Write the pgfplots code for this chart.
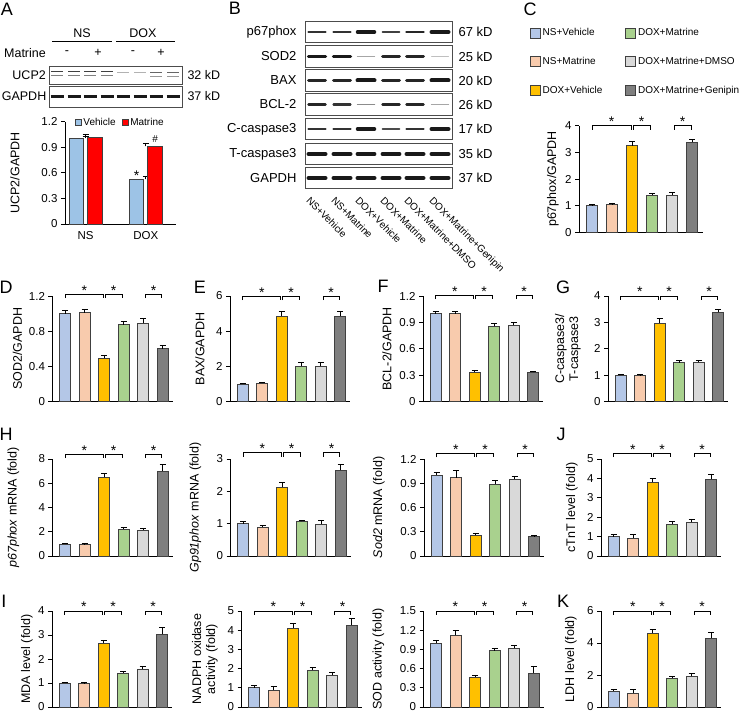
\documentclass[border=0pt]{standalone}
\usepackage{fontspec}
\setmainfont{Liberation Sans}
\usepackage{pgfplots}
\pgfplotsset{compat=1.18}
\definecolor{cNV}{HTML}{B4C7E7}
\definecolor{cNM}{HTML}{F8CBAD}
\definecolor{cDV}{HTML}{FFC000}
\definecolor{cDM}{HTML}{A9D18E}
\definecolor{cDD}{HTML}{D9D9D9}
\definecolor{cDG}{HTML}{7F7F7F}
\definecolor{aV}{HTML}{9DC3E6}
\definecolor{aM}{HTML}{FF0000}
\newcommand\ticksz{\fontsize{11.5}{13}\selectfont}
\newcommand\labsz{\fontsize{12.5}{14}\selectfont}
\newcommand\letsz{\fontsize{18}{20}\selectfont}
\newcommand\legsz{\fontsize{10}{12}\selectfont}
\newcommand\blotsz{\fontsize{13}{15}\selectfont}
\newcommand\blotasz{\fontsize{12.5}{15}\selectfont}
\newcommand\starsz{\fontsize{14}{16}\selectfont}
\pgfplotsset{
 barsty/.style={ybar, bar width=11pt, bar shift=0pt, draw=black!75, line width=0.7pt,
   error bars/y dir=plus, error bars/y explicit,
   error bars/error bar style={line width=0.8pt, black, solid},
   error bars/error mark options={rotate=90, mark size=3pt, line width=0.8pt, black},
   legend image code/.code={\draw[##1, line width=0.6pt] (0pt,-5pt) rectangle (10pt,5pt);}},
 asq/.style={legend image code/.code={\draw[##1, line width=0.6pt] (0pt,-3pt) rectangle (6pt,3pt);}},
 panel/.style={scale only axis, width=120pt, xmin=0.35, xmax=6.5, ymin=0,
   axis x line*=bottom, axis y line*=left, axis line style={-, line width=0.8pt, black},
   xtick=\empty, tick align=outside, major tick length=4pt,
   ytick style={line width=0.8pt, black},
   tick label style={font=\ticksz},
   /pgf/number format/assume math mode=true,
   ylabel style={font=\labsz, align=center},
   clip=false, anchor=south west},
}
\newcommand\bb[4]{\addplot[barsty, fill=#1] coordinates {(#2,#3) +- (0,#4)};}
\newcommand\brk[1]{%
 \draw[line width=0.8pt] ([yshift=-4pt]axis cs:1,#1) -- (axis cs:1,#1) -- (axis cs:2.95,#1) -- ([yshift=-4pt]axis cs:2.95,#1);
 \draw[line width=0.8pt] ([yshift=-4pt]axis cs:3.05,#1) -- (axis cs:3.05,#1) -- (axis cs:3.92,#1) -- ([yshift=-4pt]axis cs:3.92,#1);
 \draw[line width=0.8pt] ([yshift=-4pt]axis cs:5.12,#1) -- (axis cs:5.12,#1) -- (axis cs:5.95,#1) -- ([yshift=-4pt]axis cs:5.95,#1);
 \node[font=\starsz, anchor=base, inner sep=0pt] at ([yshift=-1pt]axis cs:1.98,#1) {*};
 \node[font=\starsz, anchor=base, inner sep=0pt] at ([yshift=-1pt]axis cs:3.48,#1) {*};
 \node[font=\starsz, anchor=base, inner sep=0pt] at ([yshift=-1pt]axis cs:5.53,#1) {*};
}
\newcommand\ylab[1]{ylabel style={at={([xshift=-#1pt]axis description cs:0,0.5)}, anchor=center}}
\newcommand\bd[4]{\draw[line width=#3pt, black!#4, line cap=round] (#1-8.5,#2) -- (#1+8.5,#2);}
\newcommand\lane[2]{\node[font=\legsz, rotate=-45, anchor=north west, inner sep=0pt] at (#1,196) {#2};}
\begin{document}
\begin{tikzpicture}
\useasboundingbox (0,0) rectangle (740pt,713pt);

% ---------------- Panel A chart
\begin{axis}[panel, width=111pt, height=102.3pt, xmin=0.66, xmax=2.5, at={(65pt,489pt)},
 ymax=1.2, ytick={0,0.3,0.6,0.9,1.2},
 xtick={1,2}, xticklabels={NS,DOX}, xtick style={draw=none},
 ylabel={UCP2/GAPDH}, \ylab{50},
 legend columns=2, legend style={draw=none, fill=none, font=\legsz, at={(axis description cs:0.06,0.99)}, anchor=west,
   /tikz/every even column/.append style={column sep=4pt}}]
\addplot[barsty, asq, bar width=14.5pt, bar shift=-9.25pt, fill=aV]
  coordinates {(1,1.005) +- (0,0.02) (2,0.524) +- (0,0.03)};
\addlegendentry{Vehicle}
\addplot[barsty, asq, bar width=14.5pt, bar shift=9.25pt, fill=aM]
  coordinates {(1,1.02) +- (0,0.03) (2,0.91) +- (0,0.03)};
\addlegendentry{Matrine}
\node[font=\starsz, anchor=base, inner sep=0pt] at ([xshift=-9.25pt]axis cs:2,0.51) {*};
\node[font=\legsz, anchor=base, inner sep=0pt] at ([xshift=9.25pt,yshift=1pt]axis cs:2,0.945) {\#};
\end{axis}

% ---------------- Panel C chart
\begin{axis}[panel, width=124pt, height=106.6pt, xmax=6.55, at={(579pt,480.7pt)},
 ymax=4, ytick={0,1,2,3,4}, ylabel={p67phox/GAPDH}, \ylab{26},
 legend columns=2, legend cell align=left,
 legend style={draw=none, fill=none, font=\legsz, at={(axis description cs:-0.42,1.95)}, anchor=north west,
   row sep=16pt, /tikz/every even column/.append style={column sep=21pt}}]
\bb{cNV}{1}{1.00}{0.04}\addlegendentry{NS+Vehicle}
\bb{cDM}{4}{1.40}{0.07}\addlegendentry{DOX+Matrine}
\bb{cNM}{2}{1.03}{0.07}\addlegendentry{NS+Matrine}
\bb{cDD}{5}{1.40}{0.08}\addlegendentry{DOX+Matrine+DMSO}
\bb{cDV}{3}{3.25}{0.15}\addlegendentry{DOX+Vehicle}
\bb{cDG}{6}{3.37}{0.10}\addlegendentry{DOX+Matrine+Genipin}
\brk{4.0}
\end{axis}

% ---------------- Row 2
\begin{axis}[panel, height=105.5pt, at={(52.5pt,311.5pt)}, ymax=1.2, ytick={0,0.4,0.8,1.2},
 ylabel={SOD2/GAPDH}, \ylab{35}]
\bb{cNV}{1}{1.00}{0.04}\bb{cNM}{2}{1.01}{0.04}\bb{cDV}{3}{0.49}{0.04}
\bb{cDM}{4}{0.875}{0.04}\bb{cDD}{5}{0.89}{0.05}\bb{cDG}{6}{0.60}{0.04}
\brk{1.22}
\end{axis}
\begin{axis}[panel, height=105.5pt, at={(230pt,311.5pt)}, ymax=6, ytick={0,2,4,6},
 ylabel={BAX/GAPDH}, \ylab{30}]
\bb{cNV}{1}{1.00}{0.05}\bb{cNM}{2}{1.05}{0.05}\bb{cDV}{3}{4.85}{0.25}
\bb{cDM}{4}{2.00}{0.25}\bb{cDD}{5}{2.00}{0.20}\bb{cDG}{6}{4.85}{0.30}
\brk{6.0}
\end{axis}
\begin{axis}[panel, height=105.5pt, at={(423pt,311.5pt)}, ymax=1.2, ytick={0,0.3,0.6,0.9,1.2},
 ylabel={BCL-2/GAPDH}, \ylab{36}]
\bb{cNV}{1}{1.00}{0.02}\bb{cNM}{2}{1.00}{0.02}\bb{cDV}{3}{0.33}{0.02}
\bb{cDM}{4}{0.855}{0.035}\bb{cDD}{5}{0.865}{0.03}\bb{cDG}{6}{0.335}{0.01}
\brk{1.21}
\end{axis}
\begin{axis}[panel, height=105.5pt, at={(608pt,311.5pt)}, ymax=4, ytick={0,1,2,3,4},
 ylabel={C-caspase3/\\T-caspase3}, \ylab{40}]
\bb{cNV}{1}{1.00}{0.03}\bb{cNM}{2}{0.98}{0.06}\bb{cDV}{3}{2.98}{0.17}
\bb{cDM}{4}{1.47}{0.10}\bb{cDD}{5}{1.48}{0.08}\bb{cDG}{6}{3.38}{0.10}
\brk{4.0}
\end{axis}

% ---------------- Row 3
\begin{axis}[panel, height=97pt, at={(52.5pt,157pt)}, ymax=8, ytick={0,2,4,6,8},
 ylabel={\textit{p67phox} mRNA (fold)}, \ylab{39}]
\bb{cNV}{1}{1.00}{0.07}\bb{cNM}{2}{0.95}{0.07}\bb{cDV}{3}{6.50}{0.28}
\bb{cDM}{4}{2.20}{0.15}\bb{cDD}{5}{2.15}{0.15}\bb{cDG}{6}{7.00}{0.55}
\brk{8.41}
\end{axis}
\begin{axis}[panel, height=97pt, at={(230.5pt,157pt)}, ymax=3, ytick={0,1,2,3},
 ylabel={\textit{Gp91phox} mRNA (fold)}, \ylab{35}]
\bb{cNV}{1}{1.00}{0.07}\bb{cNM}{2}{0.90}{0.05}\bb{cDV}{3}{2.12}{0.15}
\bb{cDM}{4}{1.07}{0.03}\bb{cDD}{5}{0.98}{0.12}\bb{cDG}{6}{2.65}{0.17}
\brk{3.2}
\end{axis}
\begin{axis}[panel, height=97pt, at={(424pt,157pt)}, ymax=1.2, ytick={0,0.3,0.6,0.9,1.2},
 ylabel={\textit{Sod2} mRNA (fold)}, \ylab{45}]
\bb{cNV}{1}{1.00}{0.04}\bb{cNM}{2}{0.97}{0.09}\bb{cDV}{3}{0.255}{0.02}
\bb{cDM}{4}{0.89}{0.04}\bb{cDD}{5}{0.95}{0.04}\bb{cDG}{6}{0.24}{0.015}
\brk{1.27}
\end{axis}
\begin{axis}[panel, height=97pt, at={(601pt,157pt)}, ymax=5, ytick={0,1,2,3,4,5},
 ylabel={cTnT level (fold)}, \ylab{29}]
\bb{cNV}{1}{1.00}{0.12}\bb{cNM}{2}{0.93}{0.18}\bb{cDV}{3}{3.80}{0.22}
\bb{cDM}{4}{1.65}{0.13}\bb{cDD}{5}{1.73}{0.18}\bb{cDG}{6}{3.95}{0.28}
\brk{5.3}
\end{axis}

% ---------------- Row 4
\begin{axis}[panel, height=96pt, at={(52pt,6pt)}, ymax=4, ytick={0,1,2,3,4},
 ylabel={MDA level (fold)}, \ylab{25}]
\bb{cNV}{1}{1.00}{0.03}\bb{cNM}{2}{0.97}{0.07}\bb{cDV}{3}{2.65}{0.14}
\bb{cDM}{4}{1.42}{0.06}\bb{cDD}{5}{1.58}{0.10}\bb{cDG}{6}{3.03}{0.27}
\brk{4.0}
\end{axis}
\begin{axis}[panel, height=96pt, at={(241.5pt,6pt)}, ymax=5, ytick={0,1,2,3,4,5},
 ylabel={NADPH oxidase\\activity (fold)}, \ylab{36.5}]
\bb{cNV}{1}{1.00}{0.12}\bb{cNM}{2}{0.88}{0.18}\bb{cDV}{3}{4.12}{0.25}
\bb{cDM}{4}{1.92}{0.15}\bb{cDD}{5}{1.65}{0.17}\bb{cDG}{6}{4.25}{0.35}
\brk{5.0}
\end{axis}
\begin{axis}[panel, height=96pt, at={(423.5pt,6pt)}, ymax=1.5, ytick={0,0.3,0.6,0.9,1.2,1.5},
 ylabel={SOD activity (fold)}, \ylab{45}]
\bb{cNV}{1}{1.00}{0.04}\bb{cNM}{2}{1.12}{0.07}\bb{cDV}{3}{0.47}{0.03}
\bb{cDM}{4}{0.88}{0.04}\bb{cDD}{5}{0.92}{0.05}\bb{cDG}{6}{0.53}{0.10}
\brk{1.5}
\end{axis}
\begin{axis}[panel, height=96pt, at={(601pt,6pt)}, ymax=6, ytick={0,2,4,6},
 ylabel={LDH level (fold)}, \ylab{30}]
\bb{cNV}{1}{1.00}{0.10}\bb{cNM}{2}{0.88}{0.20}\bb{cDV}{3}{4.62}{0.22}
\bb{cDM}{4}{1.80}{0.10}\bb{cDD}{5}{1.92}{0.18}\bb{cDG}{6}{4.30}{0.35}
\brk{6.0}
\end{axis}

% ---------------- decorations: letters and blots (image pixel coordinates)
\begin{scope}[x=1pt,y=-1pt,yshift=713pt]
\foreach \lt/\x/\y in {A/7/9, B/235/8, C/530/9, D/6/287, E/200/287, F/383/286, G/563/287, H/6/434, J/561/434, I/4/601, K/563/601}
  {\node[font=\letsz, inner sep=0pt] at (\x,\y) {\lt};}
% blot A
\node[font=\blotasz] at (82,33) {NS};
\node[font=\blotasz] at (143,33) {DOX};
\draw[line width=0.8pt] (52,41) -- (112,41);
\draw[line width=0.8pt] (116,41) -- (175,41);
\node[font=\blotasz] at (25,53) {Matrine};
\node[font=\blotasz] at (67,53) {-};
\node[font=\blotasz] at (98,53) {+};
\node[font=\blotasz] at (133,53) {-};
\node[font=\blotasz] at (161,53) {+};
\node[font=\blotasz, anchor=east, inner sep=1pt] at (47,75) {UCP2};
\node[font=\blotasz, anchor=east, inner sep=1pt] at (47.5,96.5) {GAPDH};
\draw[line width=0.6pt, black!70] (49,66) rectangle (182,84);
\draw[line width=0.6pt, black!70] (49,86) rectangle (182,107);
\node[font=\blotasz, anchor=west] at (184,75) {32 kD};
\node[font=\blotasz, anchor=west] at (184,96.5) {37 kD};
\foreach \x in {57,74,90,107} {\draw[line width=1pt, black!75] (\x-6,72) -- (\x+6,72);
  \draw[line width=0.8pt, black!50] (\x-6,75.5) -- (\x+6,75.5);}
\foreach \x in {123,140} {\draw[line width=0.8pt, black!30] (\x-6,72) -- (\x+6,72);}
\foreach \x in {156,173} {\draw[line width=1pt, black!60] (\x-6,72.5) -- (\x+6,72.5);
  \draw[line width=0.8pt, black!40] (\x-6,76) -- (\x+6,76);}
\foreach \x in {57,74,90,107,123,140,156,173} {\draw[line width=2.5pt, black!90] (\x-6.5,96.5) -- (\x+6.5,96.5);}
% blot B
\foreach \n/\y/\kd in {p67phox/32/67, SOD2/56.5/25, BAX/80.5/20, BCL-2/104.5/26, C-caspase3/129/17, T-caspase3/154/35, GAPDH/178/37} {
  \node[font=\blotsz, anchor=east] at (300,\y) {\n};
  \node[font=\blotsz, anchor=west] at (455,\y) {\kd\ kD};
  \draw[line width=0.6pt, black!70] (305,\y-11) rectangle (452,\y+10.5);
}
\foreach \x/\w/\s in {317/2.2/80, 342/2.2/80, 366/3.5/90, 391/1.8/75, 415/2.8/85, 440/4/90} {\bd{\x}{32}{\w}{\s}}
\foreach \x/\w/\s in {317/3.5/90, 342/3.5/90, 366/1.2/35, 391/3/85, 415/3/85, 440/1/25} {\bd{\x}{56.5}{\w}{\s}}
\foreach \x/\w/\s in {317/3/85, 342/3/85, 366/4/90, 391/3/85, 415/3/85, 440/4/90} {\bd{\x}{80.5}{\w}{\s}}
\foreach \x/\w/\s in {317/2.5/85, 342/2.2/80, 366/1.5/45, 391/2.5/85, 415/2.5/85, 440/1.2/35} {\bd{\x}{104.5}{\w}{\s}}
\foreach \x/\w/\s in {317/2.2/80, 342/2.5/80, 366/3.5/90, 391/1.8/70, 415/2.5/80, 440/4/90} {\bd{\x}{129}{\w}{\s}}
\foreach \x/\w/\s in {317/4/90, 342/4/90, 366/3.8/90, 391/3.8/90, 415/4/90, 440/4/90} {\bd{\x}{154}{\w}{\s}}
\foreach \x/\w/\s in {317/4/90, 342/4/90, 366/4/90, 391/4/90, 415/4/90, 440/4/90} {\bd{\x}{178}{\w}{\s}}
\lane{311}{NS+Vehicle}
\lane{336}{NS+Matrine}
\lane{360}{DOX+Vehicle}
\lane{385}{DOX+Matrine}
\lane{409}{DOX+Matrine+DMSO}
\lane{434}{DOX+Matrine+Genipin}
\end{scope}
\end{tikzpicture}
\end{document}
